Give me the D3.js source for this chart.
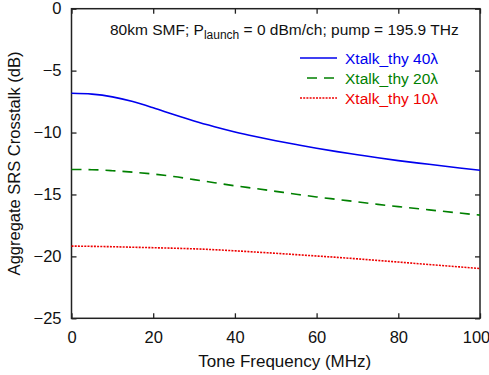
<!DOCTYPE html>
<html>
<head>
<meta charset="utf-8">
<script src="https://cdn.jsdelivr.net/npm/d3@7"></script>
<style>
  body { margin: 0; background: #fff; }
  text { font-family: "Liberation Sans", Arial, sans-serif; }
</style>
</head>
<body>
<div id="chart"></div>
<script>
// tone frequency (MHz)
const freqs = [0, 5, 10, 15, 20, 25, 30, 35, 40, 45, 50, 55, 60, 65, 70, 75, 80, 85, 90, 95, 100];
const xtalk40 = [-6.83, -6.9, -7.12, -7.5, -8.0, -8.55, -9.07, -9.53, -9.95, -10.32, -10.66, -10.97, -11.27, -11.54, -11.79, -12.04, -12.27, -12.47, -12.66, -12.86, -13.05];
const xtalk20 = [-12.98, -13.0, -13.08, -13.2, -13.35, -13.55, -13.8, -14.05, -14.3, -14.52, -14.75, -14.98, -15.2, -15.4, -15.6, -15.8, -15.98, -16.15, -16.33, -16.5, -16.67];
const xtalk10 = [-19.17, -19.19, -19.22, -19.26, -19.3, -19.34, -19.39, -19.46, -19.55, -19.65, -19.75, -19.86, -19.97, -20.08, -20.2, -20.33, -20.46, -20.59, -20.72, -20.85, -20.98];

const xTicks = [0, 20, 40, 60, 80, 100];
const yTicks = [0, -5, -10, -15, -20, -25];

const series = [
    { name: "Xtalk_thy 40λ", values: xtalk40, color: "#0000ee", dash: null },
    { name: "Xtalk_thy 20λ", values: xtalk20, color: "#008000", dash: "10,7" },
    { name: "Xtalk_thy 10λ", values: xtalk10, color: "#ee0000", dash: "2,1.2" }
];

const W = 489, H = 375;
const margin = { top: 8.7, right: 9, bottom: 56.7, left: 71.5 };
const width = W - margin.left - margin.right;
const height = H - margin.top - margin.bottom;

const svg = d3.select("#chart").append("svg")
    .attr("width", W).attr("height", H);
const g = svg.append("g")
    .attr("transform", `translate(${margin.left},${margin.top})`);

const x = d3.scaleLinear().domain([0, 100]).range([0, width]);
const y = d3.scaleLinear().domain([-25, 0]).range([height, 0]);

// axes, ticks inward on all sides
const axisColor = "#222";
function styleAxis(sel, showLabels) {
    sel.select(".domain").remove();
    sel.selectAll(".tick line").attr("stroke", axisColor).attr("stroke-width", 1.3);
    sel.selectAll(".tick text")
        .attr("font-size", 16.5).attr("fill", "#111")
        .style("display", showLabels ? null : "none");
}
g.append("g").attr("transform", `translate(0,${height})`)
    .call(d3.axisBottom(x).tickValues(xTicks).tickSize(-5).tickPadding(13))
    .call(s => styleAxis(s, true))
    .call(s => s.selectAll(".tick text").filter(d => d === 100).attr("dx", -4));
g.append("g")
    .call(d3.axisTop(x).tickValues(xTicks).tickSize(-5))
    .call(s => styleAxis(s, false));
g.append("g")
    .call(d3.axisLeft(y).tickValues(yTicks).tickSize(-5).tickPadding(10))
    .call(s => styleAxis(s, true));
g.append("g").attr("transform", `translate(${width},0)`)
    .call(d3.axisRight(y).tickValues(yTicks).tickSize(-5))
    .call(s => styleAxis(s, false));

g.append("rect")
    .attr("width", width).attr("height", height)
    .attr("fill", "none").attr("stroke", axisColor).attr("stroke-width", 1.5);

// curves
const line = d3.line()
    .x((d, i) => x(freqs[i]))
    .y(d => y(d))
    .curve(d3.curveMonotoneX);

series.forEach(s => {
    g.append("path")
        .datum(s.values)
        .attr("d", line)
        .attr("fill", "none")
        .attr("stroke", s.color)
        .attr("stroke-width", 1.6)
        .attr("stroke-dasharray", s.dash);
});

// annotation
const note = svg.append("text")
    .attr("x", 110).attr("y", 35)
    .attr("font-size", 15.5).attr("fill", "#111");
note.append("tspan").text("80km SMF; P");
note.append("tspan").attr("font-size", 12).attr("dy", 4).text("launch");
note.append("tspan").attr("dy", -4).text(" = 0 dBm/ch; pump = 195.9 THz");

// legend
const legend = svg.append("g").attr("transform", "translate(300,58)");
series.forEach((s, i) => {
    const row = legend.append("g").attr("transform", `translate(0,${i * 20})`);
    row.append("line")
        .attr("x1", s.dash === "10,7" ? 7 : 0).attr("x2", 37)
        .attr("y1", 0).attr("y2", 0)
        .attr("stroke", s.color).attr("stroke-width", 1.6)
        .attr("stroke-dasharray", s.dash);
    row.append("text")
        .attr("x", 45).attr("y", 5.5)
        .attr("font-size", 15.5).attr("fill", s.color)
        .text(s.name);
});

// axis titles
svg.append("text")
    .attr("x", margin.left + width / 2 + 9).attr("y", 367)
    .attr("text-anchor", "middle").attr("font-size", 17).attr("fill", "#111")
    .text("Tone Frequency (MHz)");
svg.append("text")
    .attr("transform", `translate(20,${margin.top + height / 2}) rotate(-90)`)
    .attr("text-anchor", "middle").attr("font-size", 16.5).attr("fill", "#111")
    .text("Aggregate SRS Crosstalk (dB)");
</script>
</body>
</html>
